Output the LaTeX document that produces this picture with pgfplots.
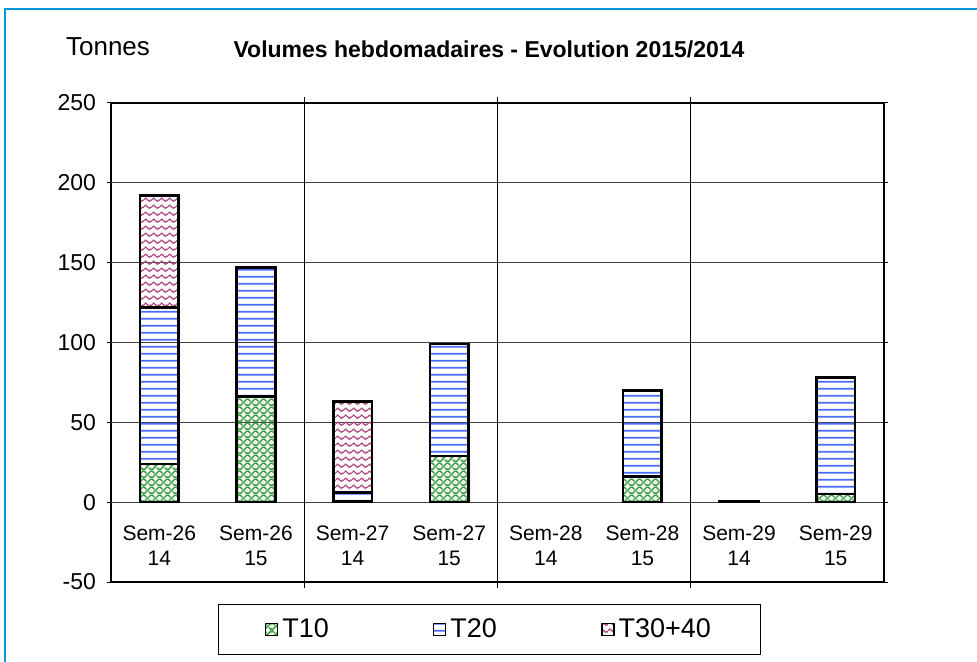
\documentclass[border=0pt]{standalone}
\usepackage{fontspec}
\setmainfont{Liberation Sans}
\usepackage{pgfplots}
\pgfplotsset{compat=1.18}
\usetikzlibrary{patterns.meta}
\definecolor{frameblue}{HTML}{0099DD}
\definecolor{t20blue}{HTML}{4A6CFF}
\definecolor{t10green}{HTML}{3FA043}
\definecolor{t30pink}{HTML}{B34D84}
\tikzdeclarepattern{
  name=T20pat, type=colored,
  bottom left={(0pt,0pt)}, top right={(4pt,3.6pt)}, tile size={(4pt,3.6pt)},
  code={\draw[t20blue, line width=0.9pt] (-0.5pt,1.8pt) -- (4.5pt,1.8pt);}
}
\tikzdeclarepattern{
  name=T30pat, type=colored,
  bottom left={(0pt,0pt)}, top right={(4pt,3.6pt)}, tile size={(4pt,3.6pt)},
  code={\draw[t30pink, line width=0.7pt] (0pt,1.8pt) sin (1pt,2.7pt) cos (2pt,1.8pt) sin (3pt,0.9pt) cos (4pt,1.8pt);}
}
\tikzdeclarepattern{
  name=T10pat, type=colored,
  bottom left={(0pt,0pt)}, top right={(4pt,4pt)}, tile size={(4pt,4pt)},
  code={\draw[t10green, line width=0.8pt] (0pt,0pt) -- (4pt,4pt) (0pt,4pt) -- (1.4pt,2.6pt) (2.6pt,1.4pt) -- (4pt,0pt);}
}
\begin{document}
\begin{tikzpicture}[x=1pt,y=1pt]
\useasboundingbox (-55.5,-40) rectangle (433,291);
\draw[frameblue, line width=1.4pt] (-53,-45) -- (-53,286.5) -- (440,286.5);
\node[font=\fontsize{13}{15}\selectfont] at (-1.5,267.5) {Tonnes};
\node[font=\bfseries\fontsize{11.5}{13}\selectfont] at (189,266.5) {Volumes hebdomadaires - Evolution 2015/2014};
\begin{axis}[
  at={(0pt,0pt)}, anchor=south west,
  width=386.5pt, height=239.5pt, scale only axis,
  ybar stacked, bar width=0.4,
  xmin=-0.5, xmax=7.5, ymin=-50, ymax=250,
  ytick={-50,0,50,100,150,200,250},
  xtick=\empty,
  extra x ticks={1.5,3.5,5.5}, extra x tick labels={},
  extra x tick style={grid=major, major grid style={black, line width=0.5pt}, major tick length=3pt, tick align=outside},
  ymajorgrids, major grid style={black!75, line width=0.5pt},
  axis line style={black, line width=1.1pt},
  tick align=outside, major tick length=2pt, tick style={black, line width=0.5pt},
  /pgf/number format/assume math mode=true,
  yticklabel style={font=\fontsize{11.5}{13}\selectfont, xshift=-2pt},
  every axis plot/.append style={draw=black, line width=1.3pt},
  legend columns=3,
  legend style={at={(0.49,0)}, anchor=north, yshift=-11pt, draw=black, line width=0.5pt,
    font=\fontsize{13.5}{15}\selectfont, inner xsep=23pt, inner ysep=5pt,
    /tikz/every even column/.append style={column sep=50pt}},
  legend cell align=left,
]
\addplot[pattern=T10pat, legend image code/.code={\draw[pattern=T10pat, draw=black, line width=0.8pt] (0pt,-3pt) rectangle (6pt,3pt);}]
  coordinates {(0,24) (1,66) (2,0.5) (3,29) (5,16) (6,0.3) (7,5)};
\addplot[pattern=T20pat, legend image code/.code={\draw[pattern=T20pat, draw=black, line width=0.8pt] (0pt,-3pt) rectangle (6pt,3pt);}]
  coordinates {(0,98) (1,81) (2,5.5) (3,70) (5,54) (6,0) (7,73)};
\addplot[pattern=T30pat, legend image code/.code={\draw[pattern=T30pat, draw=black, line width=0.8pt] (0pt,-3pt) rectangle (6pt,3pt);}]
  coordinates {(0,70) (1,0) (2,57) (3,0) (5,0) (6,0) (7,0)};
\legend{T10,T20,T30+40}
\node[align=center, font=\fontsize{10.5}{12.5}\selectfont] at (axis cs:0,-27) {Sem-26\\14};
\node[align=center, font=\fontsize{10.5}{12.5}\selectfont] at (axis cs:1,-27) {Sem-26\\15};
\node[align=center, font=\fontsize{10.5}{12.5}\selectfont] at (axis cs:2,-27) {Sem-27\\14};
\node[align=center, font=\fontsize{10.5}{12.5}\selectfont] at (axis cs:3,-27) {Sem-27\\15};
\node[align=center, font=\fontsize{10.5}{12.5}\selectfont] at (axis cs:4,-27) {Sem-28\\14};
\node[align=center, font=\fontsize{10.5}{12.5}\selectfont] at (axis cs:5,-27) {Sem-28\\15};
\node[align=center, font=\fontsize{10.5}{12.5}\selectfont] at (axis cs:6,-27) {Sem-29\\14};
\node[align=center, font=\fontsize{10.5}{12.5}\selectfont] at (axis cs:7,-27) {Sem-29\\15};
\end{axis}
\end{tikzpicture}
\end{document}
